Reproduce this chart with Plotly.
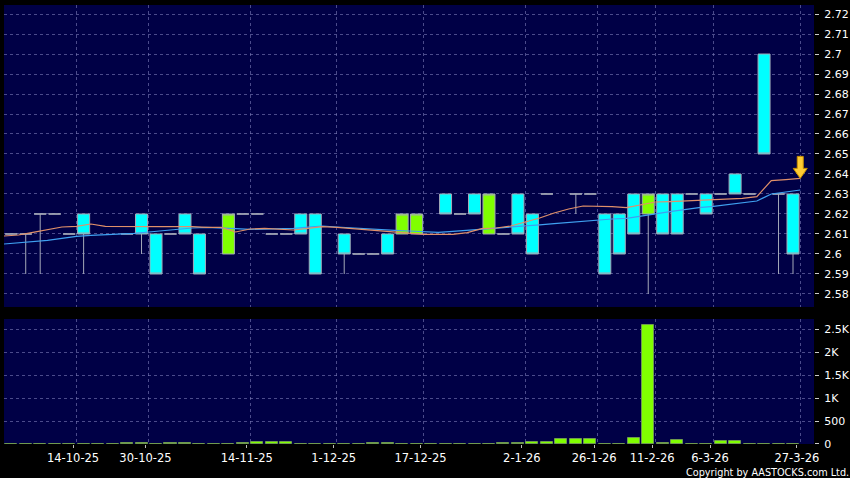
import plotly.graph_objects as go

# ---------------- data ----------------
# slot index of each trading bar (x position on the chart)
slots = [0, 1, 2, 3, 4, 5, 8, 9, 10, 11, 12, 13, 15, 16, 17, 18, 19, 20, 21, 23,
         24, 25, 26, 27, 28, 30, 31, 32, 33, 34, 35, 36, 37, 39, 40, 41, 42, 43,
         44, 45, 46, 47, 48, 49, 50, 51, 52, 53, 54]
opens = [2.61, 2.61, 2.62, 2.62, 2.61, 2.62, 2.61, 2.62, 2.61, 2.61, 2.62, 2.61, 2.60, 2.62, 2.62, 2.61, 2.61, 2.62, 2.62, 2.61,
         2.60, 2.60, 2.61, 2.61, 2.61, 2.63, 2.62, 2.63, 2.61, 2.61, 2.63, 2.62, 2.63, 2.63, 2.63, 2.62, 2.62, 2.63,
         2.62, 2.63, 2.63, 2.63, 2.63, 2.63, 2.64, 2.63, 2.70, 2.63, 2.63]
highs = [2.61, 2.61, 2.62, 2.62, 2.61, 2.62, 2.61, 2.62, 2.61, 2.61, 2.62, 2.61, 2.62, 2.62, 2.62, 2.61, 2.61, 2.62, 2.62, 2.61,
         2.60, 2.60, 2.61, 2.62, 2.62, 2.63, 2.62, 2.63, 2.63, 2.61, 2.63, 2.62, 2.63, 2.63, 2.63, 2.62, 2.62, 2.63,
         2.63, 2.63, 2.63, 2.63, 2.63, 2.63, 2.64, 2.63, 2.70, 2.63, 2.63]
lows = [2.61, 2.59, 2.59, 2.62, 2.61, 2.59, 2.61, 2.60, 2.59, 2.61, 2.61, 2.59, 2.60, 2.62, 2.62, 2.61, 2.61, 2.61, 2.59, 2.59,
        2.60, 2.60, 2.60, 2.61, 2.61, 2.62, 2.62, 2.62, 2.61, 2.61, 2.61, 2.60, 2.63, 2.62, 2.63, 2.59, 2.60, 2.61,
        2.58, 2.61, 2.61, 2.63, 2.62, 2.63, 2.63, 2.63, 2.65, 2.59, 2.59]
closes = [2.61, 2.61, 2.62, 2.62, 2.61, 2.61, 2.61, 2.61, 2.59, 2.61, 2.61, 2.59, 2.62, 2.62, 2.62, 2.61, 2.61, 2.61, 2.59, 2.60,
          2.60, 2.60, 2.60, 2.62, 2.62, 2.62, 2.62, 2.62, 2.63, 2.61, 2.61, 2.60, 2.63, 2.63, 2.63, 2.59, 2.60, 2.61,
          2.63, 2.61, 2.61, 2.63, 2.62, 2.63, 2.63, 2.63, 2.65, 2.63, 2.60]

# volume for every slot 0..54
vol_slots = list(range(55))
volumes = [8, 5, 5, 3, 4, 10, 0, 0, 12, 15, 5, 15, 15, 5, 0, 10, 12, 40, 40, 40,
           5, 5, 0, 5, 5, 15, 15, 5, 10, 3, 5, 5, 5, 10, 30, 25, 40, 45, 105, 105,
           105, 3, 3, 140, 2590, 30, 95, 3, 3, 60, 60, 3, 10, 10, 5]

# moving averages, sampled at the right edge of each slot (-1..54)
ma_slots = list(range(-1, 55))
ma_short = [2.6090, 2.6095, 2.6108, 2.6122, 2.6135, 2.6138, 2.6150, 2.6138, 2.6137, 2.6137,
            2.6137, 2.6137, 2.6137, 2.6137, 2.6133, 2.6133, 2.6110, 2.6125, 2.6128, 2.6125,
            2.6120, 2.6128, 2.6137, 2.6133, 2.6127, 2.6120, 2.6115, 2.6110, 2.6103, 2.6098,
            2.6098, 2.6098, 2.6107, 2.6127, 2.6130, 2.6140, 2.6160, 2.6180, 2.6205, 2.6225,
            2.6240, 2.6240, 2.6237, 2.6232, 2.6245, 2.6260, 2.6262, 2.6265, 2.6268, 2.6270,
            2.6273, 2.6278, 2.6287, 2.6367, 2.6372, 2.6378]
ma_long = [2.6050, 2.6055, 2.6062, 2.6068, 2.6078, 2.6088, 2.6093, 2.6096, 2.6099, 2.6103,
           2.6110, 2.6117, 2.6124, 2.6130, 2.6133, 2.6131, 2.6127, 2.6123, 2.6125, 2.6127,
           2.6128, 2.6134, 2.6140, 2.6135, 2.6130, 2.6126, 2.6122, 2.6118, 2.6115, 2.6112,
           2.6108, 2.6113, 2.6118, 2.6124, 2.6128, 2.6135, 2.6140, 2.6146, 2.6152, 2.6158,
           2.6165, 2.6172, 2.6175, 2.6178, 2.6190, 2.6203, 2.6212, 2.6222, 2.6232, 2.6238,
           2.6246, 2.6255, 2.6265, 2.6300, 2.6310, 2.6320]

# date labels and the slot they belong to
tick_slots = [4, 9, 16, 22, 28, 35, 40, 44, 48, 54]
tick_labels = ["14-10-25", "30-10-25", "14-11-25", "1-12-25", "17-12-25",
               "2-1-26", "26-1-26", "11-2-26", "6-3-26", "27-3-26"]

price_tickvals = [2.58, 2.59, 2.60, 2.61, 2.62, 2.63, 2.64, 2.65, 2.66, 2.67,
                  2.68, 2.69, 2.70, 2.71, 2.72]
price_ticktext = ["2.58", "2.59", "2.6", "2.61", "2.62", "2.63", "2.64", "2.65",
                  "2.66", "2.67", "2.68", "2.69", "2.7", "2.71", "2.72"]

vol_tickvals = [0, 500, 1000, 1500, 2000, 2500]
vol_ticktext = ["0", "500", "1K", "1.5K", "2K", "2.5K"]

# ---------------- styling ----------------
BG = "#000000"
PANEL = "#000046"
GRID = "rgba(125,125,185,0.6)"
EDGE = "#a4a9b8"
FONT = "DejaVu Sans"

fig = go.Figure()

fig.add_trace(go.Candlestick(
    x=slots, open=opens, high=highs, low=lows, close=closes,
    increasing=dict(fillcolor="#80ff00", line=dict(color=EDGE, width=1)),
    decreasing=dict(fillcolor="#00ffff", line=dict(color=EDGE, width=1)),
    whiskerwidth=0, showlegend=False, hoverinfo="skip",
    xaxis="x", yaxis="y",
))

ma_x = [s + 0.5 for s in ma_slots]
fig.add_trace(go.Scatter(x=ma_x, y=ma_long, mode="lines",
                         line=dict(color="#3fa0f0", width=1.2),
                         showlegend=False, hoverinfo="skip", xaxis="x", yaxis="y"))
fig.add_trace(go.Scatter(x=ma_x, y=ma_short, mode="lines",
                         line=dict(color="#e0906a", width=1.2),
                         showlegend=False, hoverinfo="skip", xaxis="x", yaxis="y"))

fig.add_trace(go.Bar(x=vol_slots, y=volumes, width=0.83,
                     marker=dict(color="#80ff00", line=dict(color="#6f9a50", width=1)),
                     showlegend=False, hoverinfo="skip", xaxis="x2", yaxis="y2"))

grid_vals = [s + 0.5 for s in tick_slots]      # grid line at the slot's right edge
label_vals = [s + 0.27 for s in tick_slots]    # date label sits a little left of it
xrange = [-0.5, 55.45]

# invisible carrier trace so the date-label axis gets drawn
fig.add_trace(go.Scatter(x=label_vals, y=[0] * len(label_vals), mode="markers",
                         marker=dict(opacity=0, size=1), showlegend=False,
                         hoverinfo="skip", xaxis="x3", yaxis="y2"))

common_x = dict(range=xrange, showgrid=True, gridcolor=GRID, griddash="3px,3px",
                gridwidth=1, zeroline=False, showline=False, fixedrange=True,
                tickvals=grid_vals, showticklabels=False, ticks="")

fig.update_layout(
    width=850, height=478,
    paper_bgcolor=BG, plot_bgcolor=PANEL,
    margin=dict(l=4, r=36, t=5, b=34, autoexpand=False),
    font=dict(family=FONT, color="#ffffff", size=11),
    boxgap=0.17, boxgroupgap=0,
    bargap=0,
    xaxis=dict(**common_x, anchor="y", rangeslider=dict(visible=False)),
    xaxis2=dict(**common_x, anchor="y2", matches="x"),
    xaxis3=dict(range=xrange, overlaying="x2", anchor="y2", side="bottom",
                showgrid=False, zeroline=False, showline=False, fixedrange=True,
                tickvals=label_vals, ticktext=tick_labels, showticklabels=True,
                ticks="outside", ticklen=3, tickcolor="#bbbbbb",
                tickfont=dict(size=11.5, color="#ffffff")),
    yaxis=dict(domain=[0.3121, 1.0], range=[2.5735, 2.7245], side="right",
               tickvals=price_tickvals, ticktext=price_ticktext,
               showgrid=True, gridcolor=GRID,
               griddash="3px,3px", zeroline=False, ticks="outside", ticklen=4,
               tickcolor="#cccccc", tickfont=dict(size=11, color="#ffffff"),
               ticklabelstandoff=3,
               fixedrange=True, anchor="x", automargin=False),
    yaxis2=dict(domain=[0.0, 0.2847], range=[0, 2723], side="right",
                tickvals=vol_tickvals, ticktext=vol_ticktext, showgrid=True,
                gridcolor=GRID, griddash="3px,3px", zeroline=False,
                ticks="outside", ticklen=4, tickcolor="#cccccc",
                tickfont=dict(size=11, color="#ffffff"), ticklabelstandoff=3,
                fixedrange=True, anchor="x2", automargin=False),
)

# last-bar marker arrow (pixel-sized path anchored at the end of the short MA)
fig.add_shape(
    type="path", xref="x", yref="y",
    xsizemode="pixel", ysizemode="pixel",
    xanchor=ma_x[-1], yanchor=ma_short[-1],
    path="M 0 0 L -7 10 L -3 10 L -3 22 L 3 22 L 3 10 L 7 10 Z",
    fillcolor="#ffcc33", line=dict(color="#c99000", width=1),
)

fig.add_annotation(
    text="Copyright by AASTOCKS.com Ltd.", xref="paper", yref="paper",
    x=1, y=0, xanchor="right", yanchor="middle", xshift=37, yshift=-28,
    showarrow=False, font=dict(size=9.7, color="#ffffff", family=FONT),
)

fig.write_html(
    "out.html",
    config={"displayModeBar": False},
    post_script="document.body.style.margin='0';document.body.style.overflow='hidden';",
)
